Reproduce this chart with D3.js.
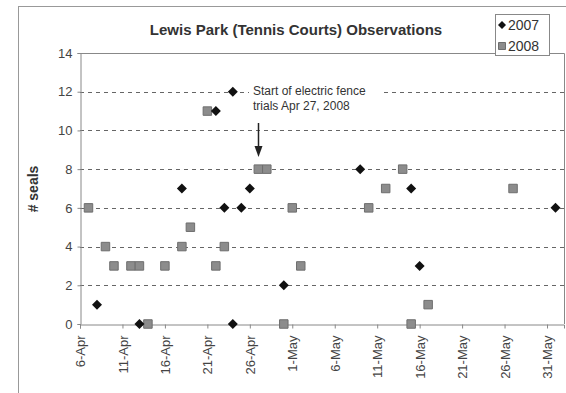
<!DOCTYPE html>
<html>
<head>
<meta charset="utf-8">
<script src="https://cdn.jsdelivr.net/npm/d3@7"></script>
<style>
  html, body { margin: 0; padding: 0; background: #fff; }
  svg { display: block; font-family: "Liberation Sans", Arial, sans-serif; }
</style>
</head>
<body>
<svg id="chart" width="566" height="393"></svg>
<script>
// Observation dates and seal counts per season
const dates2007 = ["8-Apr","13-Apr","18-Apr","22-Apr","23-Apr","24-Apr","24-Apr","25-Apr","26-Apr","30-Apr","9-May","15-May","16-May","1-Jun"];
const seals2007 = [1, 0, 7, 11, 6, 12, 0, 6, 7, 2, 8, 7, 3, 6];

const dates2008 = ["7-Apr","9-Apr","10-Apr","12-Apr","13-Apr","14-Apr","16-Apr","18-Apr","19-Apr","21-Apr","22-Apr","23-Apr","27-Apr","28-Apr","30-Apr","1-May","2-May","10-May","12-May","14-May","15-May","17-May","27-May"];
const seals2008 = [6, 4, 3, 3, 3, 0, 3, 4, 5, 11, 3, 4, 8, 8, 0, 6, 3, 6, 7, 8, 0, 1, 7];

const xTickLabels = ["6-Apr","11-Apr","16-Apr","21-Apr","26-Apr","1-May","6-May","11-May","16-May","21-May","26-May","31-May"];
const yTickValues = [0, 2, 4, 6, 8, 10, 12, 14];
const xDomainLabels = ["6-Apr", "2-Jun"];
const fenceStart = "27-Apr";

const parse = d3.timeParse("%d-%b");
const svg = d3.select("#chart");

const plot = { left: 80, right: 564, top: 53, bottom: 324 };

const x = d3.scaleTime()
  .domain(xDomainLabels.map(parse))
  .range([plot.left, plot.right]);
const y = d3.scaleLinear()
  .domain([0, 14])
  .range([plot.bottom, plot.top]);

// outer chart frame
svg.append("rect")
  .attr("x", 18.5).attr("y", 6.5)
  .attr("width", 600).attr("height", 420)
  .attr("fill", "none").attr("stroke", "#999").attr("stroke-width", 1);

// title
svg.append("text")
  .attr("x", 296).attr("y", 35)
  .attr("text-anchor", "middle")
  .attr("font-size", 15).attr("font-weight", "bold")
  .attr("fill", "#333")
  .text("Lewis Park (Tennis Courts) Observations");

// horizontal dashed gridlines
svg.append("g")
  .selectAll("line")
  .data(yTickValues.filter(v => v > 0 && v < 14))
  .join("line")
  .attr("x1", plot.left).attr("x2", plot.right)
  .attr("y1", d => Math.round(y(d)) + 0.5).attr("y2", d => Math.round(y(d)) + 0.5)
  .attr("stroke", "#666").attr("stroke-width", 1)
  .attr("stroke-dasharray", "4,4");

// plot border (top and right)
svg.append("path")
  .attr("d", `M${plot.left},${plot.top + 0.5}H${plot.right + 0.5}V${plot.bottom}`)
  .attr("fill", "none").attr("stroke", "#888").attr("stroke-width", 1);

// axes
const yAxis = svg.append("g")
  .attr("transform", `translate(${plot.left + 0.5},0)`)
  .call(d3.axisLeft(y).tickValues(yTickValues).tickSize(3).tickPadding(5));
const xAxis = svg.append("g")
  .attr("transform", `translate(0,${plot.bottom + 0.5})`)
  .call(d3.axisBottom(x).tickValues(xTickLabels.map(parse)).tickSize(4)
    .tickFormat(d3.timeFormat("%-d-%b")));

[yAxis, xAxis].forEach(g => {
  g.select(".domain").attr("stroke", "#888");
  g.selectAll(".tick line").attr("stroke", "#888");
  g.selectAll("text").attr("fill", "#444").attr("font-size", 13)
    .attr("font-family", "'Liberation Sans', Arial, sans-serif");
});
xAxis.selectAll(".tick text")
  .attr("transform", "rotate(-90)")
  .attr("text-anchor", "end")
  .attr("x", -11).attr("y", 0).attr("dy", "0.35em");

// y-axis title
svg.append("text")
  .attr("transform", "translate(38,189) rotate(-90)")
  .attr("text-anchor", "middle")
  .attr("font-size", 14).attr("font-weight", "bold")
  .attr("fill", "#333")
  .text("# seals");

// annotation: start of electric fence trials
const ann = svg.append("g");
ann.append("rect")
  .attr("x", 249).attr("y", 80).attr("width", 134).attr("height", 33)
  .attr("fill", "#fff");
ann.append("text")
  .attr("x", 253).attr("y", 95)
  .attr("font-size", 12).attr("fill", "#333")
  .selectAll("tspan")
  .data(["Start of electric fence", "trials Apr 27, 2008"])
  .join("tspan")
  .attr("x", 253).attr("dy", (d, i) => i === 0 ? 0 : 15)
  .text(d => d);
const ax = Math.round(x(parse(fenceStart))) + 0.5;
ann.append("line")
  .attr("x1", ax).attr("x2", ax).attr("y1", 123).attr("y2", 148)
  .attr("stroke", "#222").attr("stroke-width", 1.5);
ann.append("path")
  .attr("d", `M${ax - 4},146 L${ax + 4},146 L${ax},157 Z`)
  .attr("fill", "#222");

// markers
const diamond = d3.symbol(d3.symbolSquare, 50);
const square = d3.symbol(d3.symbolSquare, 72);

const data2008 = dates2008.map((d, i) => ({ date: parse(d), value: seals2008[i] }));
const data2007 = dates2007.map((d, i) => ({ date: parse(d), value: seals2007[i] }));

svg.append("g")
  .selectAll("path")
  .data(data2008)
  .join("path")
  .attr("d", square)
  .attr("transform", d => `translate(${x(d.date)},${y(d.value)})`)
  .attr("fill", "#8c8c8c").attr("stroke", "#6e6e6e").attr("stroke-width", 1);

svg.append("g")
  .selectAll("path")
  .data(data2007)
  .join("path")
  .attr("d", diamond)
  .attr("transform", d => `translate(${x(d.date)},${y(d.value)}) rotate(45)`)
  .attr("fill", "#111");

// legend
const lg = svg.append("g");
lg.append("rect")
  .attr("x", 495.5).attr("y", 14.5).attr("width", 54).attr("height", 41)
  .attr("fill", "#fff").attr("stroke", "#888");
const legendItems = [
  { label: "2007", y: 25, kind: "diamond" },
  { label: "2008", y: 46, kind: "square" }
];
legendItems.forEach(it => {
  if (it.kind === "diamond") {
    lg.append("path").attr("d", d3.symbol(d3.symbolSquare, 32))
      .attr("transform", `translate(502,${it.y}) rotate(45)`).attr("fill", "#111");
  } else {
    lg.append("path").attr("d", d3.symbol(d3.symbolSquare, 49))
      .attr("transform", `translate(502,${it.y})`)
      .attr("fill", "#8c8c8c").attr("stroke", "#6e6e6e");
  }
  lg.append("text").attr("x", 508).attr("y", it.y).attr("dy", "0.35em")
    .attr("font-size", 14).attr("fill", "#333").text(it.label);
});
</script>
</body>
</html>
